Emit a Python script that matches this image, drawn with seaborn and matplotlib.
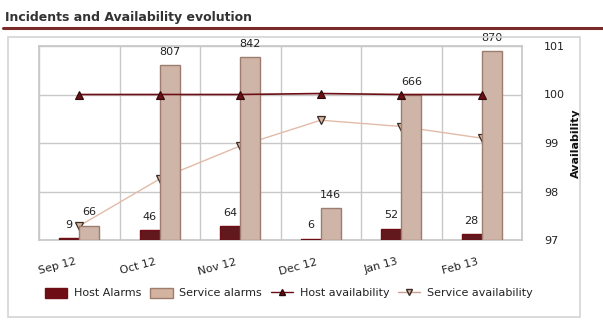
import matplotlib
matplotlib.use("Agg")
import matplotlib.pyplot as plt
import matplotlib.transforms as mtrans
import seaborn as sns
import pandas as pd
import numpy as np
from matplotlib.patches import Rectangle, Patch
from matplotlib.lines import Line2D

months = ["Sep 12", "Oct 12", "Nov 12", "Dec 12", "Jan 13", "Feb 13"]
host_alarms = [9, 46, 64, 6, 52, 28]
service_alarms = [66, 807, 842, 146, 666, 870]
host_avail = [100.0, 100.0, 100.0, 100.02, 100.0, 100.0]
service_avail = [97.29, 98.26, 98.94, 99.47, 99.34, 99.10]

HOST_C = "#6e0d14"
SERV_C = "#d4b3a0"
SERV_EDGE = "#9c7d70"
GRID_C = "#c8c8c8"

sns.set_theme(style="white")
plt.rcParams['font.family'] = ['DejaVu Sans']

fig = plt.figure(figsize=(6.03, 3.23), dpi=100)

# title and rule
fig.text(5/603, 1 - 17/323, "Incidents and Availability evolution", fontsize=9,
         fontweight="bold", color="#333333", va="center", ha="left")
fig.add_artist(Line2D([3/603, 1.0], [1 - 28/323, 1 - 28/323], color="#7b2a2a", lw=2.2,
                      transform=fig.transFigure))
# outer frame
fig.add_artist(Rectangle((8/603, 1 - 317/323), (580 - 8)/603, (317 - 37)/323,
                         transform=fig.transFigure, fill=False, ec="#d4d4d4", lw=1.2))

pos = [39/603, 1 - 240/323, (522 - 39)/603, (240 - 46)/323]

ax_s = fig.add_axes(pos)
ax_b = ax_s.twinx()
ax_h = ax_s.twinx()
ax_b.set_position(pos); ax_h.set_position(pos)

df_bars = pd.DataFrame({
    "month": months * 2,
    "value": host_alarms + service_alarms,
    "kind": ["Host Alarms"] * 6 + ["Service alarms"] * 6,
})
df_lines = pd.DataFrame({"month": months, "host": host_avail, "service": service_avail})

# service availability line (behind bars)
sns.lineplot(data=df_lines, x=np.arange(6), y="service", ax=ax_s, color="#e2bba8", lw=1,
             marker="v", markersize=6, markerfacecolor=SERV_C, markeredgecolor="#3a2a25",
             markeredgewidth=0.9, legend=False)
ax_s.set_ylim(97, 101)
ax_s.set_xlim(-0.5, 5.5)
ax_s.set_ylabel(""); ax_s.set_xlabel("")
ax_s.set_yticks([97, 98, 99, 100, 101])
ax_s.set_xticks(np.arange(6))
ax_s.set_xticklabels(months)
ax_s.set_xticks(np.arange(-0.5, 6, 1), minor=True)
ax_s.grid(False)
ax_s.grid(True, axis="y", which="major", color=GRID_C, lw=1)
ax_s.grid(True, axis="x", which="minor", color=GRID_C, lw=1)
ax_s.tick_params(axis="y", left=False, labelleft=False)
ax_s.tick_params(axis="x", which="both", bottom=False, labelbottom=True, labelsize=8,
                 pad=6, colors="#222222")
shift = mtrans.ScaledTranslation(-5/100, 0, fig.dpi_scale_trans)
for lbl in ax_s.get_xticklabels():
    lbl.set_rotation(15)
    lbl.set_ha("right")
    lbl.set_rotation_mode("anchor")
    lbl.set_transform(lbl.get_transform() + shift)
for sp in ax_s.spines.values():
    sp.set_color(GRID_C)

# bars
sns.barplot(data=df_bars, x="month", y="value", hue="kind", ax=ax_b,
            palette=[HOST_C, SERV_C], width=0.5, dodge=True, legend=False,
            edgecolor=SERV_EDGE, linewidth=1)
for p in ax_b.patches[:6]:
    p.set_edgecolor(HOST_C)
ax_b.set_ylim(0, 894)
ax_b.set_xlim(-0.5, 5.5)
ax_b.patch.set_visible(False)
ax_b.tick_params(left=False, right=False, labelright=False, labelleft=False)
ax_b.set_ylabel(""); ax_b.set_xlabel("")
ax_b.grid(False)
for sp in ax_b.spines.values():
    sp.set_visible(False)
for cont in ax_b.containers:
    ax_b.bar_label(cont, padding=6, fontsize=8, color="#222222")

# host availability line on top
sns.lineplot(data=df_lines, x=np.arange(6), y="host", ax=ax_h, color=HOST_C, lw=1.2,
             marker="^", markersize=6, markerfacecolor=HOST_C, markeredgecolor="#2a0a0a",
             markeredgewidth=0.8, legend=False)
ax_h.set_ylim(97, 101)
ax_h.set_xlim(-0.5, 5.5)
ax_h.patch.set_visible(False)
ax_h.grid(False)
for sp in ax_h.spines.values():
    sp.set_visible(False)
ax_h.set_yticks([97, 98, 99, 100, 101])
ax_h.set_yticklabels(["97", "98", "99", "100", "101"])
ax_h.tick_params(axis="y", right=False, labelright=True, labelsize=8, pad=10, colors="#222222")
ax_h.yaxis.set_label_position("right")
ax_h.set_ylabel("Availability", fontsize=8, fontweight="bold", color="#111111", labelpad=4)

handles = [
    Patch(facecolor=HOST_C, edgecolor=HOST_C),
    Patch(facecolor=SERV_C, edgecolor=SERV_EDGE),
    Line2D([], [], color=HOST_C, lw=1, marker="^", markersize=5, markerfacecolor=HOST_C,
           markeredgecolor="#2a0a0a"),
    Line2D([], [], color="#c9a08e", lw=1, marker="v", markersize=5, markerfacecolor=SERV_C,
           markeredgecolor="#3a2a25"),
]
labels = ["Host Alarms", "Service alarms", "Host availability", "Service availability"]
fig.legend(handles, labels, loc="center", bbox_to_anchor=(289/603, 1 - 293/323), ncol=4,
           frameon=False, fontsize=8, handlelength=2.0, handleheight=1.0, columnspacing=0.8,
           handletextpad=0.6, labelcolor="#222222")

fig.savefig("out.png", dpi=100)
